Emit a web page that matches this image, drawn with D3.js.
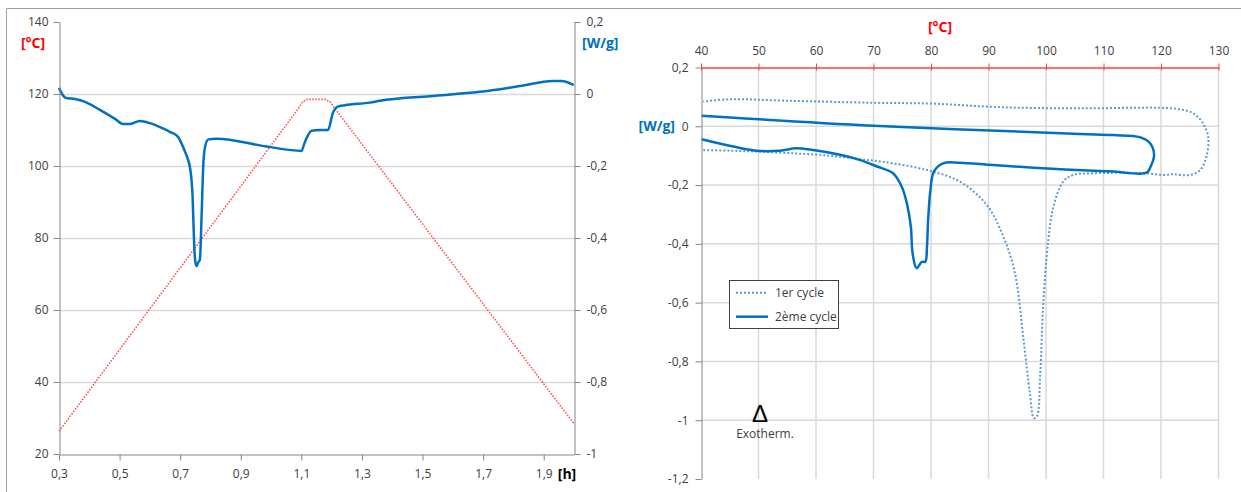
<!DOCTYPE html>
<html><head><meta charset="utf-8">
<script src="https://cdn.jsdelivr.net/npm/d3@7"></script>
<style>
html,body{margin:0;padding:0;background:#fff;}
svg{display:block;font-family:"Open Sans","Noto Sans",sans-serif;}
</style></head>
<body><svg id="c" width="1241" height="492"></svg>
<script>
// ---------- DATA ----------
const timeTicks = [0.3,0.5,0.7,0.9,1.1,1.3,1.5,1.7,1.9];
const tempTicks = [20,40,60,80,100,120,140];
const heatFlowTicks = [-1,-0.8,-0.6,-0.4,-0.2,0,0.2];
// temperature program [h, °C]
const tempProfile = [[0.3,26.3],[1.093,116.3],[1.105,117.9],[1.12,118.5],[1.18,118.5],[1.195,117.8],[1.207,116.4],[2.0,28.4]];
// heat flow vs time [h, W/g]
const heatFlowTime = [
 [0.300,0.017],[0.310,0.000],[0.323,-0.011],[0.353,-0.014],[0.386,-0.022],[0.435,-0.044],
 [0.485,-0.069],[0.511,-0.083],[0.534,-0.083],[0.567,-0.075],[0.600,-0.081],[0.633,-0.092],
 [0.666,-0.105],[0.693,-0.119],[0.709,-0.146],[0.726,-0.183],[0.732,-0.202],[0.741,-0.285],
 [0.746,-0.414],[0.750,-0.467],[0.754,-0.478],[0.760,-0.467],[0.765,-0.461],[0.771,-0.331],
 [0.776,-0.202],[0.782,-0.147],[0.793,-0.126],[0.820,-0.124],[0.985,-0.146],[1.101,-0.158],
 [1.108,-0.142],[1.117,-0.123],[1.134,-0.102],[1.161,-0.100],[1.188,-0.100],[1.204,-0.053],
 [1.220,-0.035],[1.244,-0.031],[1.326,-0.024],[1.359,-0.019],[1.524,-0.006],[1.689,0.006],
 [1.821,0.022],[1.930,0.036],[1.959,0.036],[1.999,0.025]
];
const dscTempTicks = [40,50,60,70,80,90,100,110,120,130];
const dscTicks = [-1.2,-1,-0.8,-0.6,-0.4,-0.2,0,0.2];
// [°C, W/g]
const cycle1 = [
 [40.4,-0.081],[45.0,-0.083],[49.7,-0.086],[56.1,-0.092],[62.4,-0.100],[67.7,-0.112],[70.0,-0.117],
 [73.4,-0.126],[79.3,-0.149],[85.0,-0.188],[89.7,-0.268],[92.6,-0.376],[94.6,-0.500],[96.1,-0.727],
 [97.2,-0.908],[97.9,-0.993],[98.4,-0.988],[99.0,-0.840],[99.5,-0.614],[100.4,-0.387],[101.3,-0.273],
 [103.0,-0.188],[104.7,-0.166],[108.2,-0.160],[117.5,-0.160],[120.4,-0.166],[122.1,-0.163],
 [125.0,-0.166],[126.8,-0.149],[127.9,-0.103],[128.2,-0.035],[127.1,0.016],[125.6,0.044],
 [123.3,0.058],[119.8,0.063],[105.9,0.061],[92.0,0.065],[80.3,0.077],[70.0,0.080],[54.9,0.087],
 [45.0,0.092],[40.4,0.084]
];
const cycle2 = [
 [40.1,-0.044],[49.7,-0.083],[53.7,-0.083],[56.6,-0.075],[59.5,-0.081],[64.2,-0.097],[67.7,-0.115],
 [70.5,-0.136],[73.4,-0.160],[74.9,-0.205],[75.8,-0.262],[76.5,-0.342],[76.8,-0.432],[77.5,-0.483],
 [78.4,-0.461],[79.0,-0.461],[79.3,-0.410],[79.5,-0.319],[79.9,-0.217],[80.5,-0.154],[82.1,-0.126],
 [85.0,-0.124],[90.8,-0.132],[99.5,-0.143],[109.4,-0.152],[111.7,-0.154],[117.5,-0.158],[118.2,-0.137],
 [118.8,-0.098],[118.1,-0.058],[116.3,-0.037],[111.7,-0.030],[105.9,-0.026],[70.0,0.002],[40.1,0.036]
];
const legendLabels = ["1er cycle","2ème cycle"];

// ---------- DRAW ----------
const svg = d3.select("#c");
const loc = d3.formatLocale({decimal:",",thousands:" ",grouping:[3],currency:["",""],minus:"-"});
const fmt = loc.format("~g");
const tickColor = "#404040", axisColor = "#868686", gridColor = "#d9d9d9";
const blue = "#0070C0", lightBlue = "#5B9BD5", red = "#FF3B3B";

svg.append("rect").attr("width",1241).attr("height",492).attr("fill","#fff");
// outer frame
svg.append("line").attr("x1",6.5).attr("x2",1241).attr("y1",8.5).attr("y2",8.5).attr("stroke","#a0a0a0");
svg.append("line").attr("x1",6.5).attr("x2",6.5).attr("y1",8.5).attr("y2",492).attr("stroke","#a0a0a0");

function styleAxis(g, col){
  g.selectAll(".domain").attr("stroke", col || axisColor);
  g.selectAll(".tick line").attr("stroke", col || axisColor);
  g.selectAll(".tick text").attr("fill", tickColor).style("font-size","12px").style("font-family",'"Open Sans","Noto Sans",sans-serif');
}

// ===== Left chart =====
const xL = d3.scaleLinear([0.3,2.0],[59,574]);
const yT = d3.scaleLinear([20,140],[454,22]);
const yW = d3.scaleLinear([-1,0.2],[454,22]);

svg.append("g").selectAll("line").data(tempTicks.filter(d=>d>20 && d<140)).join("line")
  .attr("x1",xL(0.3)).attr("x2",xL(2.0)).attr("y1",d=>yT(d)+0.5).attr("y2",d=>yT(d)+0.5)
  .attr("stroke",gridColor).attr("stroke-width",1.5);

svg.append("path").datum(tempProfile)
  .attr("d", d3.line().x(d=>xL(d[0])).y(d=>yT(d[1])))
  .attr("fill","none").attr("stroke",red).attr("stroke-width",1.6).attr("stroke-dasharray","1.6,1.4").attr("opacity",0.85);

svg.append("path").datum(heatFlowTime)
  .attr("d", d3.line().x(d=>xL(d[0])).y(d=>yW(d[1])).curve(d3.curveMonotoneX))
  .attr("fill","none").attr("stroke",blue).attr("stroke-width",2.5).attr("stroke-linejoin","round");

const gLL = svg.append("g").attr("transform","translate(59.5,0)")
  .call(d3.axisLeft(yT).tickValues(tempTicks).tickSize(6).tickSizeOuter(0).tickPadding(5).tickFormat(fmt));
styleAxis(gLL);
const gLR = svg.append("g").attr("transform","translate(574.5,0)")
  .call(d3.axisRight(yW).tickValues(heatFlowTicks).tickSize(6).tickSizeOuter(0).tickPadding(6).tickFormat(fmt));
styleAxis(gLR);
const gLB = svg.append("g").attr("transform","translate(0,454.5)")
  .call(d3.axisBottom(xL).tickValues(timeTicks).tickSize(6).tickSizeOuter(0).tickPadding(9).tickFormat(fmt));
styleAxis(gLB);

svg.append("text").attr("x",33).attr("y",48).attr("text-anchor","middle")
  .attr("fill","#FF0000").style("font-weight","bold").style("font-size","14px").text("[°C]");
svg.append("text").attr("x",582).attr("y",48).attr("text-anchor","start")
  .attr("fill",blue).style("font-weight","bold").style("font-size","14px").text("[W/g]");
svg.append("text").attr("x",567).attr("y",479).attr("text-anchor","middle")
  .attr("fill","#000").style("font-weight","bold").style("font-size","14px").text("[h]");

// ===== Right chart =====
const xR = d3.scaleLinear([40,130],[701,1218.5]);
const yR = d3.scaleLinear([-1.2,0.2],[479,67.5]);

svg.append("g").selectAll("line").data(dscTicks.filter(d=>d>-1.2 && d<0.2)).join("line")
  .attr("x1",xR(40)).attr("x2",xR(130)).attr("y1",d=>yR(d)).attr("y2",d=>yR(d))
  .attr("stroke",gridColor).attr("stroke-width",1.5);
svg.append("g").selectAll("line").data(dscTempTicks.filter(d=>d>40)).join("line")
  .attr("x1",d=>xR(d)).attr("x2",d=>xR(d)).attr("y1",yR(0.2)).attr("y2",yR(-1.2))
  .attr("stroke",gridColor).attr("stroke-width",1.5);

const lineR = d3.line().x(d=>xR(d[0])).y(d=>yR(d[1])).curve(d3.curveCatmullRom.alpha(0.5));
svg.append("path").datum(cycle1).attr("d",lineR)
  .attr("fill","none").attr("stroke",lightBlue).attr("stroke-width",2).attr("stroke-dasharray","2,2");
svg.append("path").datum(cycle2).attr("d",lineR)
  .attr("fill","none").attr("stroke",blue).attr("stroke-width",2.5).attr("stroke-linejoin","round");

const gRL = svg.append("g").attr("transform","translate(701.5,0)")
  .call(d3.axisLeft(yR).tickValues(dscTicks).tickSize(6).tickSizeOuter(0).tickPadding(7).tickFormat(fmt));
styleAxis(gRL);
const gRT = svg.append("g").attr("transform","translate(0,67.5)")
  .call(d3.axisTop(xR).tickValues(dscTempTicks).tickSize(4).tickSizeOuter(0).tickPadding(9).tickFormat(fmt));
styleAxis(gRT, "#FF4040");
gRT.selectAll(".tick line").attr("y1",3);
gRT.select(".domain").attr("stroke-width",1.5);

svg.append("text").attr("x",940).attr("y",32).attr("text-anchor","middle")
  .attr("fill","#FF0000").style("font-weight","bold").style("font-size","14px").text("[°C]");
svg.append("text").attr("x",675).attr("y",131).attr("text-anchor","end")
  .attr("fill",blue).style("font-weight","bold").style("font-size","14px").text("[W/g]");

// legend
const lg = svg.append("g");
lg.append("rect").attr("x",729.5).attr("y",280.5).attr("width",109).attr("height",48)
  .attr("fill","#fff").attr("stroke","#404040").attr("stroke-width",1);
[[cycle1,lightBlue,2,"2,2"],[cycle2,blue,2.5,null]].forEach((s,i)=>{
  const y = 292.7 + i*24;
  lg.append("line").attr("x1",736).attr("x2",768).attr("y1",y).attr("y2",y)
    .attr("stroke",s[1]).attr("stroke-width",s[2]).attr("stroke-dasharray",s[3]);
  lg.append("text").attr("x",775).attr("y",y+4).attr("fill",tickColor).style("font-size","12px").text(legendLabels[i]);
});

// exotherm marker
svg.append("text").attr("x",760).attr("y",422).attr("text-anchor","middle")
  .style("font-family","Liberation Sans").style("font-size","24px").attr("fill","#000").text("Δ");
svg.append("text").attr("x",765).attr("y",438).attr("text-anchor","middle")
  .attr("fill",tickColor).style("font-size","12px").text("Exotherm.");
</script></body></html>
